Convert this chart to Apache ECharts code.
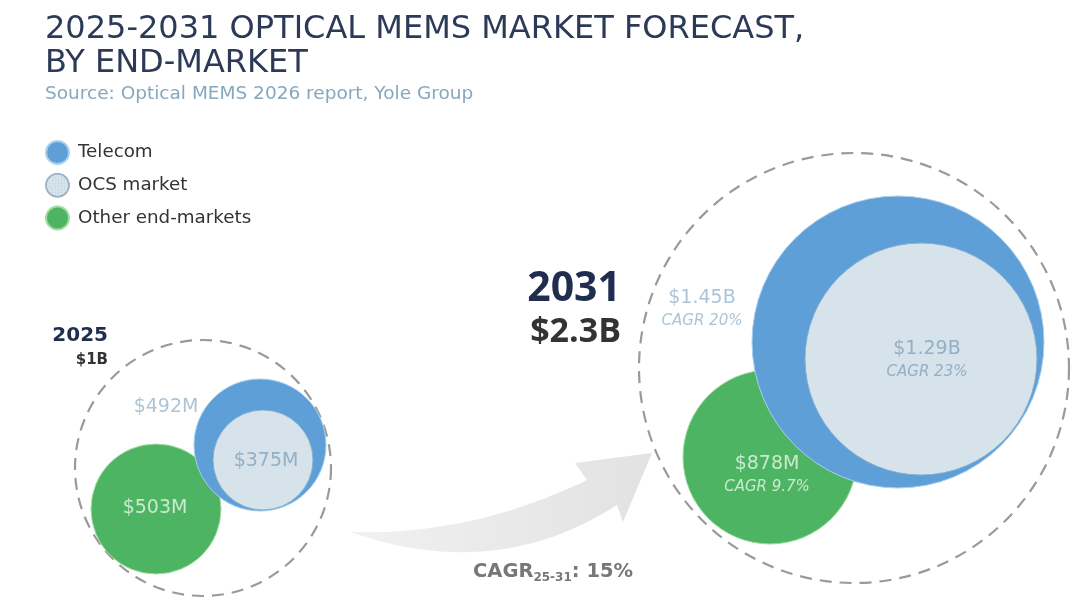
<!DOCTYPE html>
<html>
<head>
<meta charset="utf-8">
<script src="https://cdn.jsdelivr.net/npm/echarts@6/dist/echarts.min.js"></script>
<style>
html, body { margin: 0; padding: 0; background: #fff; }
#chart { width: 1080px; height: 615px; }
</style>
</head>
<body>
<div id="chart"></div>
<script>
// values ($M)
var years = ['2025', '2031'];
var totals = ['$1B', '$2.3B'];
var telecom = [492, 1450];
var ocs = [375, 1290];
var other = [503, 878];
var cagrTelecom = [null, '20%'];
var cagrOcs = [null, '23%'];
var cagrOther = [null, '9.7%'];
var cagrPeriod = '25-31';
var cagrTotal = '15%';
var names = ['Telecom', 'OCS market', 'Other end-markets'];

// layout: the grid covers the whole canvas, so axis units are pixels
var posTotal = [[203, 468], [854, 368]];
var rTotal = [128, 215];
var posTelecom = [[260, 445], [898, 342]];
var rTelecom = [66, 146];
var posOcs = [[263, 460], [921, 359]];
var rOcs = [50, 116];
var posOther = [[156, 509], [770, 457]];
var rOther = [65, 87];
var lblTelecom = [[166, 407], [702, 309]];
var lblOcs = [[266, 461], [927, 360]];
var lblOther = [[155, 508], [767, 475]];

var FONT = '"DejaVu Sans", sans-serif';
var BOLD = '"Open Sans", sans-serif';
var BLUE = '#5e9fd7';
var GREEN = '#4cb462';
var OCS_FILL = '#d6e3eb';

function money(v) {
    return v >= 1000 ? '$' + (v / 1000) + 'B' : '$' + v + 'M';
}

// sample a quadratic curve into points for the arrow outline
function quad(p0, c, p1, n) {
    var pts = [];
    for (var i = 0; i <= n; i++) {
        var t = i / n, u = 1 - t;
        pts.push([u * u * p0[0] + 2 * u * t * c[0] + t * t * p1[0],
                  u * u * p0[1] + 2 * u * t * c[1] + t * t * p1[1]]);
    }
    return pts;
}
var arrowPts = quad([350, 532], [496, 583], [617, 505], 30)
    .concat([[623, 522], [652, 453], [575, 463]])
    .concat(quad([587, 480], [471, 536], [350, 532], 30));

function bubbles(name, pos, r, style, z) {
    style.opacity = 1;
    return {
        name: name,
        type: 'scatter',
        z: z,
        silent: true,
        data: pos.map(function (p, i) {
            return { value: p, symbolSize: r[i] * 2 };
        }),
        itemStyle: style
    };
}

function labels(vals, cagr, pos, color) {
    return {
        type: 'scatter',
        z: 10,
        silent: true,
        symbolSize: 0,
        data: pos,
        label: {
            show: true,
            position: 'inside',
            formatter: function (prm) {
                var i = prm.dataIndex;
                var s = '{v|' + money(vals[i]) + '}';
                if (cagr[i]) s += '\n{c|CAGR ' + cagr[i] + '}';
                return s;
            },
            rich: {
                v: { fontFamily: FONT, fontSize: 19, color: color, lineHeight: 25 },
                c: { fontFamily: FONT, fontSize: 15, fontStyle: 'italic', color: color, lineHeight: 22 }
            }
        }
    };
}

var myChart = echarts.init(document.getElementById('chart'));

myChart.setOption({
    animation: false,
    backgroundColor: '#fff',
    title: {
        text: '2025-2031 OPTICAL MEMS MARKET FORECAST,\nBY END-MARKET',
        subtext: 'Source: Optical MEMS 2026 report, Yole Group',
        left: 40,
        top: 8,
        itemGap: 4,
        textStyle: { fontFamily: FONT, fontSize: 32, fontWeight: 'normal', color: '#2c3a58', lineHeight: 34 },
        subtextStyle: { fontFamily: FONT, fontSize: 18.5, color: '#86a8bf' }
    },
    legend: {
        orient: 'vertical',
        left: 40,
        top: 135,
        itemWidth: 23,
        itemHeight: 23,
        itemGap: 8,
        icon: 'circle',
        selectedMode: false,
        textStyle: { fontFamily: FONT, fontSize: 18.3, color: '#333', padding: [0, 0, 0, 4] },
        data: [
            { name: names[0], itemStyle: { color: BLUE } },
            { name: names[1], itemStyle: { color: OCS_FILL, borderColor: '#9fb3c2', borderWidth: 1.5 } },
            { name: names[2], itemStyle: { color: GREEN } }
        ]
    },
    grid: { left: 0, right: 0, top: 0, bottom: 0 },
    xAxis: { type: 'value', min: 0, max: 1080, show: false },
    yAxis: { type: 'value', min: 0, max: 615, inverse: true, show: false },
    graphic: [
        {
            type: 'polygon',
            z: 1,
            silent: true,
            shape: { points: arrowPts },
            style: {
                fill: new echarts.graphic.LinearGradient(0, 0, 1, 0, [
                    { offset: 0, color: '#f1f1f1' },
                    { offset: 1, color: '#e2e2e2' }
                ])
            }
        },
        {
            type: 'text', x: 108, y: 326, z: 10,
            style: { text: years[0], font: 'bold 20px ' + FONT, fill: '#1f2d4f', textAlign: 'right' }
        },
        {
            type: 'text', x: 108, y: 353, z: 10,
            style: { text: totals[0], font: 'bold 15px ' + FONT, fill: '#333', textAlign: 'right' }
        },
        {
            type: 'text', x: 621, y: 269, z: 10,
            style: { text: years[1], font: 'bold 41px ' + BOLD, fill: '#1f2d4f', textAlign: 'right' }
        },
        {
            type: 'text', x: 621, y: 315, z: 10,
            style: { text: totals[1], font: 'bold 34px ' + BOLD, fill: '#333', textAlign: 'right' }
        },
        {
            type: 'text', x: 473, y: 559, z: 10,
            style: {
                text: '{b|CAGR}{s|' + cagrPeriod + '}{b|: ' + cagrTotal + '}',
                rich: {
                    b: { fontFamily: FONT, fontSize: 19.5, fontWeight: 'bold', fill: '#777', lineHeight: 26 },
                    s: { fontFamily: FONT, fontSize: 12, fontWeight: 'bold', fill: '#777', lineHeight: 26, padding: [12, 0, 0, 0] }
                }
            }
        }
    ],
    series: [
        bubbles('total', posTotal, rTotal, {
            color: 'transparent', borderColor: '#9a9a9a', borderWidth: 2.2, borderType: [12, 8]
        }, 2),
        bubbles(names[2], posOther, rOther, {
            color: GREEN, borderColor: '#9fdc9f', borderWidth: 1
        }, 3),
        bubbles(names[0], posTelecom, rTelecom, {
            color: BLUE, borderColor: '#a9d0ee', borderWidth: 1
        }, 4),
        bubbles(names[1], posOcs, rOcs, {
            color: OCS_FILL, borderColor: '#86aed0', borderWidth: 1,
            decal: {
                symbol: 'rect',
                symbolSize: 1,
                dashArrayX: [1, 2],
                dashArrayY: [1, 2],
                color: 'rgba(110,140,160,0.22)'
            }
        }, 5),
        labels(telecom, cagrTelecom, lblTelecom, '#97b5ca'),
        labels(ocs, cagrOcs, lblOcs, '#83a2bc'),
        labels(other, cagrOther, lblOther, '#e9f7ea')
    ]
});
</script>
</body>
</html>
